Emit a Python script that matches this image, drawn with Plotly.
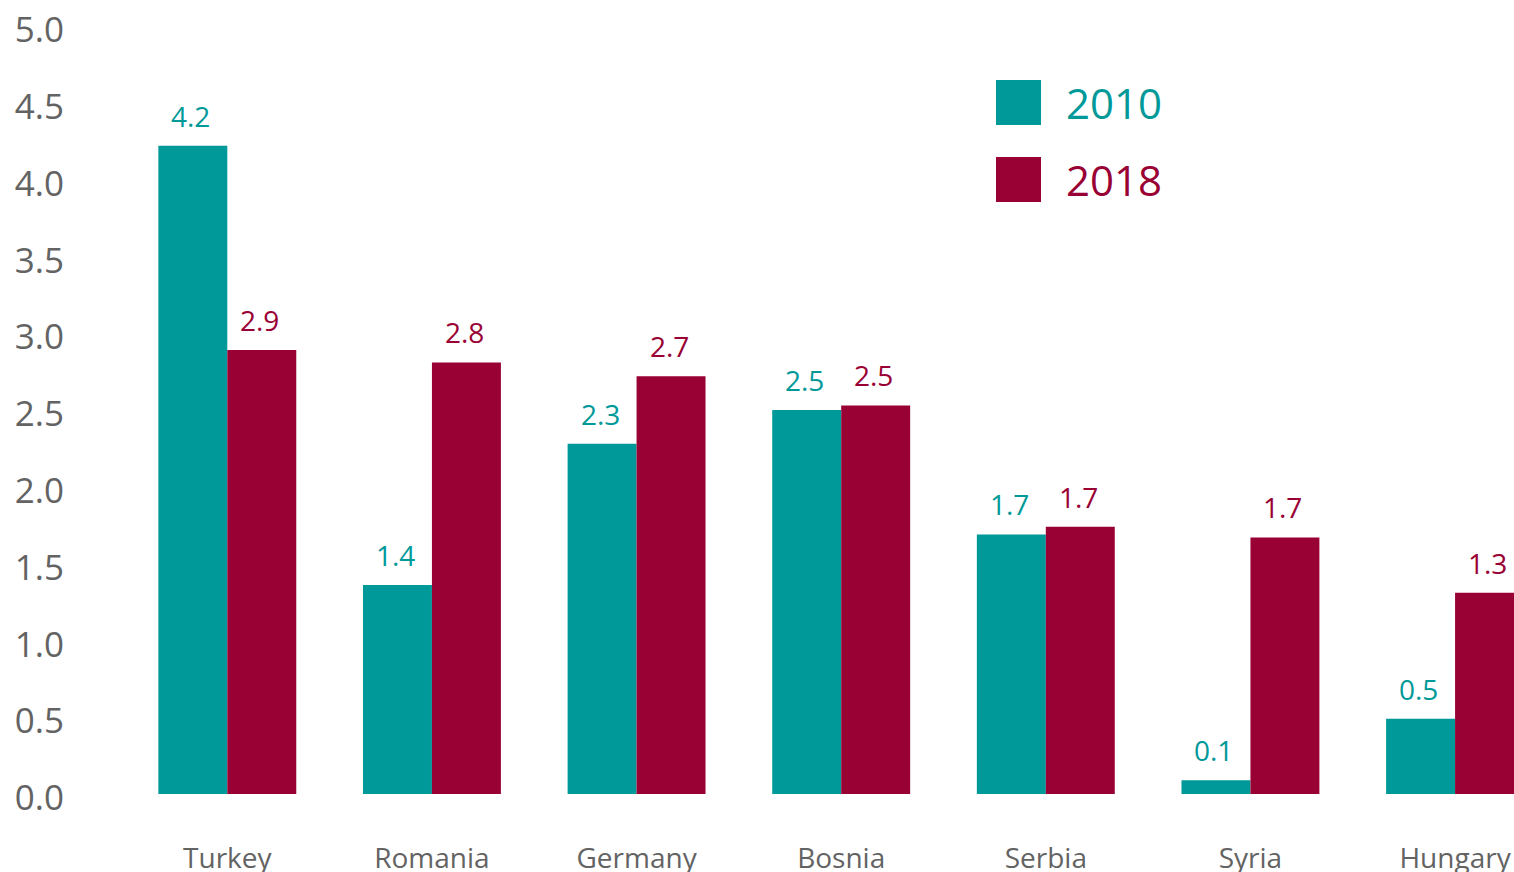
import plotly.graph_objects as go

categories = ["Turkey", "Romania", "Germany", "Bosnia", "Serbia", "Syria", "Hungary"]
values_2010 = [4.22, 1.36, 2.28, 2.50, 1.69, 0.09, 0.49]
values_2018 = [2.89, 2.81, 2.72, 2.53, 1.74, 1.67, 1.31]
series_names = ["2010", "2018"]
y_ticks = [0.0, 0.5, 1.0, 1.5, 2.0, 2.5, 3.0, 3.5, 4.0, 4.5, 5.0]

TEAL = "#009999"
CRIMSON = "#990033"
GREY = "#636363"
FONT = "Open Sans"

W, H = 1514, 872
ML, MR, MT, MB = 125, 0, 26, 78
PW, PH = W - ML - MR, H - MT - MB


def px_x(px):
    return (px - ML) / PW


def px_y(py):
    return (H - MB - py) / PH


fig = go.Figure()
for name, vals, col in [(series_names[0], values_2010, TEAL), (series_names[1], values_2018, CRIMSON)]:
    fig.add_trace(go.Bar(name=name, x=categories, y=vals, marker=dict(color=col, line=dict(width=0)),
                         showlegend=False, hoverinfo="skip"))

annotations = []
bar_px = 69
for vals, col, shift in [(values_2010, TEAL, -bar_px / 2), (values_2018, CRIMSON, bar_px / 2)]:
    for c, v in zip(categories, vals):
        annotations.append(dict(x=c, y=v, xref="x", yref="y", text=f"{v:.1f}", showarrow=False,
                                xanchor="center", yanchor="bottom", xshift=shift - 2, yshift=9,
                                font=dict(family=FONT, size=28, color=col)))

# custom legend
shapes = []
for i, (name, col) in enumerate([(series_names[0], TEAL), (series_names[1], CRIMSON)]):
    top = 80 + i * 77
    shapes.append(dict(type="rect", xref="paper", yref="paper", x0=px_x(996), x1=px_x(1041),
                       y0=px_y(top + 45), y1=px_y(top), fillcolor=col, line=dict(width=0), layer="above"))
    annotations.append(dict(xref="paper", yref="paper", x=px_x(1064), y=px_y(top + 22.5), text=name,
                            showarrow=False, xanchor="left", yanchor="middle",
                            font=dict(family=FONT, size=42, color=col)))

fig.update_layout(
    width=W, height=H,
    margin=dict(l=ML, r=MR, t=MT, b=MB, pad=0, autoexpand=False),
    plot_bgcolor="white", paper_bgcolor="white",
    barmode="group", bargap=0.326, bargroupgap=0,
    annotations=annotations, shapes=shapes,
    font=dict(family=FONT, color=GREY),
    xaxis=dict(range=[-0.5, 6.288], showgrid=False, showline=False, zeroline=False, ticks="",
               automargin=False,
               tickfont=dict(family=FONT, size=28, color=GREY), ticklabelstandoff=45),
    yaxis=dict(range=[0, 5], tickvals=y_ticks, ticktext=[f"{t:.1f}" for t in y_ticks],
               showgrid=False, showline=False, zeroline=False, ticks="", automargin=False,
               ticklabelshift=4,
               tickfont=dict(family=FONT, size=35, color=GREY), ticklabelstandoff=60),
)

fig.write_html("out.html", config={"displayModeBar": False},
               post_script="document.body.style.margin='0';document.body.style.overflow='hidden';")
